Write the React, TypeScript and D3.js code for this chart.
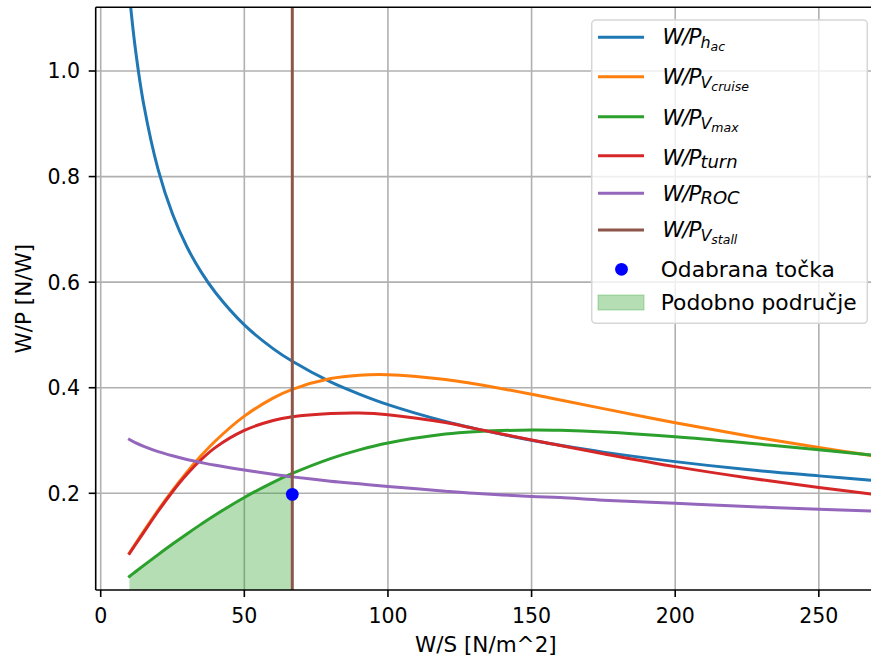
import React from 'react';
import * as d3 from 'd3';

// W/S sample positions [N/m^2]
const wsValues = [10, 12, 15, 20, 25, 30, 35, 40, 50, 60, 66.7, 80, 90, 100, 120, 130, 150, 160, 175, 200, 225, 250, 270];
// W/P series [N/W]
const wpHac = [1.145, 1.045, 0.936, 0.813, 0.729, 0.667, 0.619, 0.58, 0.519, 0.474, 0.45, 0.411, 0.388, 0.368, 0.336, 0.323, 0.3005, 0.291, 0.278, 0.26, 0.245, 0.233, 0.224];
const wpCruise = [0.0867, 0.1036, 0.1284, 0.1682, 0.2055, 0.2401, 0.2714, 0.2996, 0.3462, 0.3803, 0.3969, 0.4173, 0.4238, 0.4248, 0.4156, 0.4074, 0.3876, 0.3768, 0.3604, 0.3337, 0.309, 0.2866, 0.2704];
const wpVmax = [0.0425, 0.0509, 0.0634, 0.0838, 0.1038, 0.123, 0.1416, 0.1594, 0.1921, 0.2208, 0.2376, 0.2657, 0.2823, 0.2953, 0.3122, 0.3167, 0.3199, 0.3193, 0.3162, 0.3071, 0.2953, 0.2823, 0.2716];
const wpTurn = [0.086, 0.102, 0.126, 0.166, 0.203, 0.236, 0.264, 0.287, 0.319, 0.338, 0.345, 0.351, 0.352, 0.349, 0.334, 0.323, 0.301, 0.2905, 0.275, 0.2505, 0.2295, 0.211, 0.1975];
const wpRoc = [0.302, 0.296, 0.289, 0.279, 0.271, 0.264, 0.2583, 0.253, 0.244, 0.236, 0.2311, 0.223, 0.218, 0.213, 0.204, 0.2, 0.194, 0.192, 0.187, 0.181, 0.175, 0.17, 0.166];
const stallWS = 66.7;
const chosenWS = 66.7;
const chosenWP = 0.198;

const xTicks = [0, 50, 100, 150, 200, 250];
const yTicks = [0.2, 0.4, 0.6, 0.8, 1.0];

const seriesColors = ['#1f77b4', '#ff7f0e', '#2ca02c', '#d62728', '#9467bd'];
const seriesValues = [wpHac, wpCruise, wpVmax, wpTurn, wpRoc];
const stallColor = '#8c564b';

// legend labels: W/P with subscripts
const legendSubs = ['h', 'V', 'V', 'turn', 'ROC', 'V'];
const legendSubSubs = ['ac', 'cruise', 'max', '', '', 'stall'];
const legendColors = [...seriesColors, stallColor];
const pointLabel = 'Odabrana točka';
const areaLabel = 'Podobno područje';

const W = 871;
const H = 661;
const FONT = 'DejaVu Sans';

export default function App() {
  const left = 95.7, right = 876, top = 7.3, bottom = 590;
  const x = d3.scaleLinear().domain([-1.74, 269.9]).range([left, right]);
  const y = d3.scaleLinear().domain([0.0168, 1.1207]).range([bottom, top]);

  const line = d3
    .line<[number, number]>()
    .x((d) => x(d[0]))
    .y((d) => y(d[1]))
    .curve(d3.curveCatmullRom.alpha(0.5));

  const fillPts: [number, number][] = wsValues
    .map((w, i) => [w, wpVmax[i]] as [number, number])
    .filter((d) => d[0] <= stallWS);
  const area = d3
    .area<[number, number]>()
    .x((d) => x(d[0]))
    .y0(y(0))
    .y1((d) => y(d[1]))
    .curve(d3.curveCatmullRom.alpha(0.5));

  const legendRowsY = [37.3, 76.7, 116.7, 155.7, 193.3, 230];
  const legendBase = [43.7, 83.7, 125, 165, 200.5, 236.7];

  return (
    <svg
      width={W}
      height={H}
      style={{ position: 'absolute', left: 0, top: 0, background: '#fff' }}
      fontFamily={FONT}
    >
      <defs>
        <clipPath id="plot">
          <rect x={left} y={top} width={right - left} height={bottom - top} />
        </clipPath>
      </defs>
      <rect x={0} y={0} width={W} height={H} fill="#fff" />
      {/* grid */}
      <g stroke="#b0b0b0" strokeWidth={1.6}>
        {xTicks.map((t) => (
          <line key={'gx' + t} x1={x(t)} x2={x(t)} y1={top} y2={bottom} />
        ))}
        {yTicks.map((t) => (
          <line key={'gy' + t} x1={left} x2={right} y1={y(t)} y2={y(t)} />
        ))}
      </g>
      <g clipPath="url(#plot)">
        <path d={area(fillPts) || ''} fill="#2ca02c" fillOpacity={0.35} stroke="none" />
        {seriesValues.map((vals, si) => (
          <path
            key={si}
            d={line(wsValues.map((w, i) => [w, vals[i]] as [number, number])) || ''}
            fill="none"
            stroke={seriesColors[si]}
            strokeWidth={3}
            strokeLinejoin="round"
            strokeLinecap="square"
          />
        ))}
        <line x1={x(stallWS)} x2={x(stallWS)} y1={top} y2={bottom} stroke={stallColor} strokeWidth={3} />
        <circle cx={x(chosenWS)} cy={y(chosenWP)} r={6.4} fill="#0000ff" />
      </g>
      {/* spines */}
      <g stroke="#000" strokeWidth={1.6} fill="none">
        <line x1={left} x2={left} y1={top} y2={bottom} />
        <line x1={left} x2={right} y1={bottom} y2={bottom} />
        <line x1={left} x2={right} y1={top} y2={top} />
      </g>
      {/* ticks */}
      <g stroke="#000" strokeWidth={1.6}>
        {xTicks.map((t) => (
          <line key={'tx' + t} x1={x(t)} x2={x(t)} y1={bottom} y2={bottom + 7} />
        ))}
        {yTicks.map((t) => (
          <line key={'ty' + t} x1={left} x2={left - 7} y1={y(t)} y2={y(t)} />
        ))}
      </g>
      <g fontSize={20.5} fill="#000">
        {xTicks.map((t) => (
          <text key={'lx' + t} x={x(t)} y={623} textAnchor="middle">
            {String(t)}
          </text>
        ))}
        {yTicks.map((t) => (
          <text key={'ly' + t} x={80} y={y(t) + 7.4} textAnchor="end">
            {t.toFixed(1)}
          </text>
        ))}
      </g>
      <text x={(left + right) / 2} y={652} textAnchor="middle" fontSize={21.5}>
        W/S [N/m^2]
      </text>
      <text
        transform={`translate(31, ${(top + bottom) / 2}) rotate(-90)`}
        textAnchor="middle"
        fontSize={21.5}
      >
        W/P [N/W]
      </text>
      {/* legend */}
      <g>
        <rect x={591.7} y={20} width={275.6} height={303.3} rx={4} fill="#fff" fillOpacity={0.8} stroke="#d6d6d6" strokeWidth={1.5} />
        {legendSubs.map((sub, i) => (
          <g key={'leg' + i}>
            <line x1={598} x2={644} y1={legendRowsY[i]} y2={legendRowsY[i]} stroke={legendColors[i]} strokeWidth={3} />
            <text x={662.5} y={legendBase[i]} fontStyle="italic" fontSize={21.5} fill="#000">
              <tspan letterSpacing={-1.2}>W/P</tspan>
              <tspan dx={0} dy={legendSubSubs[i] ? 4 : 3} fontSize={legendSubSubs[i] ? 16 : 18}>
                {sub}
              </tspan>
              {legendSubSubs[i] ? (
                <tspan dy={3} fontSize={12.5}>
                  {legendSubSubs[i]}
                </tspan>
              ) : null}
            </text>
          </g>
        ))}
        <circle cx={621.5} cy={269.3} r={6.4} fill="#0000ff" />
        <text x={660.7} y={276.5} fontSize={21.8} fill="#000">
          {pointLabel}
        </text>
        <rect x={598} y={295} width={46} height={15} fill="#2ca02c" fillOpacity={0.35} stroke="#2ca02c" strokeOpacity={0.35} />
        <text x={660.7} y={310} fontSize={21.8} fill="#000">
          {areaLabel}
        </text>
      </g>
    </svg>
  );
}
